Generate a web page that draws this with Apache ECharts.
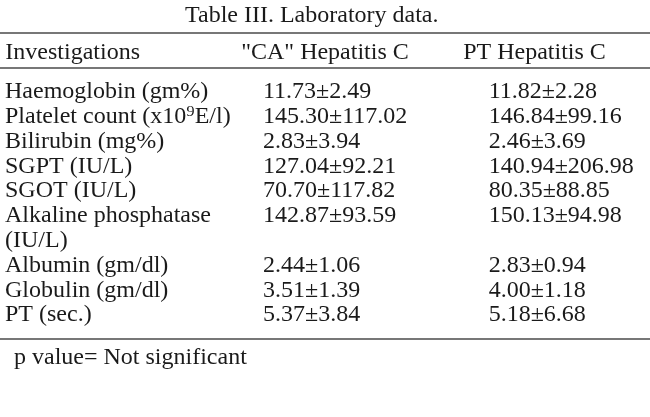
<!DOCTYPE html>
<html>
<head>
<meta charset="utf-8">
<script src="https://cdn.jsdelivr.net/npm/echarts@6/dist/echarts.min.js"></script>
<style>
html,body{margin:0;padding:0;background:#ffffff;}
#chart{width:650px;height:417px;}
</style>
</head>
<body>
<div id="chart"></div>
<script>
const titleText = 'Table III. Laboratory data.';
const footnote = 'p value= Not significant';
const columns = ['Investigations', '"CA" Hepatitis C', 'PT Hepatitis C'];
const investigations = [
  'Haemoglobin (gm%)',
  'Platelet count (x10\u2079E/l)',
  'Bilirubin (mg%)',
  'SGPT (IU/L)',
  'SGOT (IU/L)',
  'Alkaline phosphatase\n(IU/L)',
  'Albumin (gm/dl)',
  'Globulin (gm/dl)',
  'PT (sec.)'
];
const caMean = [11.73, 145.30, 2.83, 127.04, 70.70, 142.87, 2.44, 3.51, 5.37];
const caSD   = [2.49, 117.02, 3.94, 92.21, 117.82, 93.59, 1.06, 1.39, 3.84];
const ptMean = [11.82, 146.84, 2.46, 140.94, 80.35, 150.13, 2.83, 4.00, 5.18];
const ptSD   = [2.28, 99.16, 3.69, 206.98, 88.85, 94.98, 0.94, 1.18, 6.68];

const FONT = 'Liberation Serif';
const INK = '#1a1a1a';
const RULE = '#4a4a4a';

// each printed line of the first column becomes one row of the y axis
const rowLines = [];
const firstLineIndex = [];
investigations.forEach(function (name) {
  const parts = name.split('\n');
  firstLineIndex.push(rowLines.length);
  parts.forEach(function (p) { rowLines.push(p); });
});

function fmt(m, s) { return m.toFixed(2) + '\u00b1' + s.toFixed(2); }
const caData = caMean.map(function (m, i) { return { value: [columns[1], firstLineIndex[i]], label: { formatter: fmt(m, caSD[i]) } }; });
const ptData = ptMean.map(function (m, i) { return { value: [columns[2], firstLineIndex[i]], label: { formatter: fmt(m, ptSD[i]) } }; });

function cellLabel(dx) {
  return {
    show: true, position: 'inside', align: 'left', verticalAlign: 'middle',
    offset: [dx, 0], fontFamily: FONT, fontSize: 24, color: INK, opacity: 1
  };
}

const chart = echarts.init(document.getElementById('chart'), null, { renderer: 'canvas' });
chart.setOption({
  backgroundColor: '#ffffff',
  animation: false,
  title: [
    { text: titleText, left: 185, top: 4, padding: 0, textStyle: { fontFamily: FONT, fontSize: 24, fontWeight: 'normal', color: INK } },
    { text: footnote, left: 14, top: 346, padding: 0, textStyle: { fontFamily: FONT, fontSize: 24, fontWeight: 'normal', color: INK } }
  ],
  grid: { left: 0, right: 0, top: 79.6, bottom: 89.4 },
  xAxis: [
    {
      type: 'category', position: 'top', offset: 11.6, data: columns,
      axisLine: { show: true, lineStyle: { color: RULE, width: 1.5 } },
      axisTick: { show: false }, splitLine: { show: false },
      axisLabel: {
        show: true, interval: 0, margin: 3, fontFamily: FONT, fontSize: 24, color: INK,
        formatter: function (v, i) { return i === 0 ? '{l|' + v + '}' : (i === 2 ? '{r|' + v + '}' : v); },
        rich: {
          l: { width: 206, align: 'left', fontFamily: FONT, fontSize: 24, color: INK },
          r: { width: 157, align: 'left', fontFamily: FONT, fontSize: 24, color: INK }
        }
      }
    },
    {
      type: 'category', position: 'top', offset: 46.6, data: columns,
      axisLine: { show: true, lineStyle: { color: RULE, width: 1.5 } },
      axisTick: { show: false }, axisLabel: { show: false }, splitLine: { show: false }
    },
    {
      type: 'category', position: 'bottom', offset: 11.4, data: columns,
      axisLine: { show: true, lineStyle: { color: RULE, width: 1.5 } },
      axisTick: { show: false }, axisLabel: { show: false }, splitLine: { show: false }
    }
  ],
  yAxis: {
    type: 'category', inverse: true, data: rowLines.map(function (t, i) { return i; }),
    axisLine: { show: false }, axisTick: { show: false }, splitLine: { show: false },
    axisLabel: {
      show: true, inside: true, margin: 5, interval: 0, align: 'left',
      fontFamily: FONT, fontSize: 24, color: INK,
      formatter: function (v) { return rowLines[Number(v)]; }
    }
  },
  series: [
    { type: 'scatter', xAxisIndex: 0, symbolSize: 0, itemStyle: { opacity: 1 }, data: caData, label: cellLabel(-62), silent: true },
    { type: 'scatter', xAxisIndex: 0, symbolSize: 0, itemStyle: { opacity: 1 }, data: ptData, label: cellLabel(-53), silent: true }
  ]
});
</script>
</body>
</html>
